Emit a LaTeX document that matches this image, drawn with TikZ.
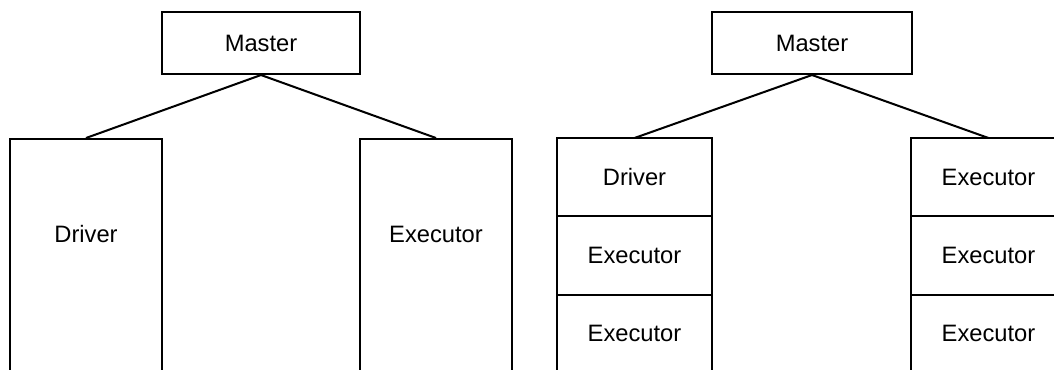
\documentclass[tikz,border=0pt]{standalone}
\usepackage{fontspec}
\setmainfont{Liberation Sans}
\usepackage{tikz}
\usetikzlibrary{positioning}

\tikzset{
	box/.style={draw, line width=1.15pt, minimum width=3.96cm, minimum height=1.24cm, inner sep=0pt},
	tallbox/.style={draw, line width=1.15pt, minimum width=3.04cm, minimum height=5cm, anchor=north, inner sep=0pt},
	cell/.style={draw, line width=1.15pt, minimum width=3.10cm, minimum height=1.566cm, inner sep=0pt, outer sep=0pt},
	link/.style={line width=1.15pt}
}

\begin{document}
\begin{tikzpicture}[every node/.style={font=\fontsize{13.5}{16}\selectfont}]
	\clip (0,0) rectangle (21.08,-7.38);

	% Left: one driver, one executor
	\node[box] (mstA) at (5.22,-0.86) {Master};
	\node[tallbox] (drvA) at (1.72,-2.76) {};
	\node[tallbox] (exeA) at (8.72,-2.76) {};
	\node (drvAtxt) at (1.72,-4.68) {Driver};
	\node (exeAtxt) at (8.72,-4.68) {Executor};
	\draw[link] (mstA.south) -- (drvA.north);
	\draw[link] (mstA.south) -- (exeA.north);

	% Right: stacked driver and executors
	\node[box, minimum width=4cm] (mstB) at (16.24,-0.86) {Master};
	\node[cell, anchor=north] (l1) at (12.69,-2.76) {Driver};
	\node[cell, below=0pt of l1] (l2) {Executor};
	\node[cell, below=0pt of l2] (l3) {Executor};
	\node[cell, anchor=north] (r1) at (19.77,-2.76) {Executor};
	\node[cell, below=0pt of r1] (r2) {Executor};
	\node[cell, below=0pt of r2] (r3) {Executor};
	\draw[link] (mstB.south) -- (l1.north);
	\draw[link] (mstB.south) -- (r1.north);
\end{tikzpicture}
\end{document}
